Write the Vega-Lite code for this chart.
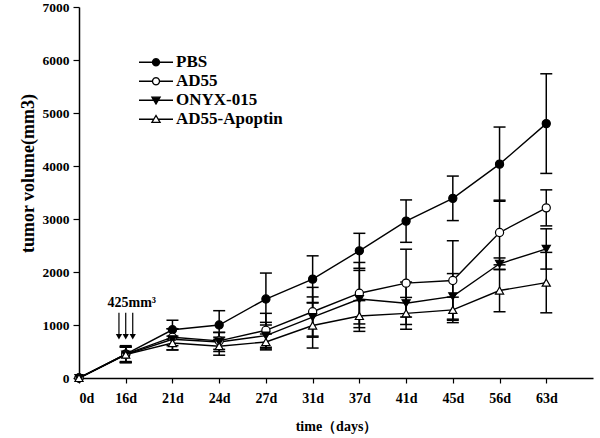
{
  "$schema": "https://vega.github.io/schema/vega-lite/v6.json",
  "autosize": {"type": "none"},
  "padding": {"left": 79, "top": 7, "right": 7, "bottom": 60},
  "width": 514,
  "height": 371,
  "background": "white",
  "config": {
    "view": {"stroke": null},
    "font": "Liberation Serif",
    "axis": {"grid": false, "domainColor": "black", "tickColor": "black", "labelColor": "black", "titleColor": "black", "labelFont": "Liberation Serif", "titleFont": "Liberation Serif", "labelFontWeight": "bold", "titleFontWeight": "bold", "domainWidth": 1.5, "tickWidth": 1.2}
  },
  "datasets": {
    "main": [
      {"s": "PBS", "i": 0, "v": 0, "lo": null, "hi": null},
      {"s": "PBS", "i": 1, "v": 450, "lo": 290, "hi": 610},
      {"s": "PBS", "i": 2, "v": 910, "lo": 730, "hi": 1090},
      {"s": "PBS", "i": 3, "v": 1000, "lo": 730, "hi": 1270},
      {"s": "PBS", "i": 4, "v": 1490, "lo": 1000, "hi": 1980},
      {"s": "PBS", "i": 5, "v": 1865, "lo": 1425, "hi": 2305},
      {"s": "PBS", "i": 6, "v": 2400, "lo": 2070, "hi": 2730},
      {"s": "PBS", "i": 7, "v": 2960, "lo": 2560, "hi": 3360},
      {"s": "PBS", "i": 8, "v": 3390, "lo": 2970, "hi": 3810},
      {"s": "PBS", "i": 9, "v": 4035, "lo": 3335, "hi": 4735},
      {"s": "PBS", "i": 10, "v": 4800, "lo": 3860, "hi": 5740},
      {"s": "AD55", "i": 0, "v": 0, "lo": null, "hi": null},
      {"s": "AD55", "i": 1, "v": 450, "lo": 310, "hi": 590},
      {"s": "AD55", "i": 2, "v": 770, "lo": 610, "hi": 930},
      {"s": "AD55", "i": 3, "v": 700, "lo": 540, "hi": 860},
      {"s": "AD55", "i": 4, "v": 900, "lo": 580, "hi": 1220},
      {"s": "AD55", "i": 5, "v": 1250, "lo": 790, "hi": 1710},
      {"s": "AD55", "i": 6, "v": 1600, "lo": 1020, "hi": 2180},
      {"s": "AD55", "i": 7, "v": 1790, "lo": 1150, "hi": 2430},
      {"s": "AD55", "i": 8, "v": 1840, "lo": 1090, "hi": 2590},
      {"s": "AD55", "i": 9, "v": 2745, "lo": 2135, "hi": 3355},
      {"s": "AD55", "i": 10, "v": 3210, "lo": 2870, "hi": 3550},
      {"s": "ONYX-015", "i": 0, "v": 0, "lo": null, "hi": null},
      {"s": "ONYX-015", "i": 1, "v": 440, "lo": 300, "hi": 580},
      {"s": "ONYX-015", "i": 2, "v": 730, "lo": 530, "hi": 930},
      {"s": "ONYX-015", "i": 3, "v": 680, "lo": 500, "hi": 860},
      {"s": "ONYX-015", "i": 4, "v": 800, "lo": 550, "hi": 1050},
      {"s": "ONYX-015", "i": 5, "v": 1150, "lo": 770, "hi": 1530},
      {"s": "ONYX-015", "i": 6, "v": 1490, "lo": 950, "hi": 2030},
      {"s": "ONYX-015", "i": 7, "v": 1410, "lo": 1010, "hi": 1810},
      {"s": "ONYX-015", "i": 8, "v": 1540, "lo": 1110, "hi": 1970},
      {"s": "ONYX-015", "i": 9, "v": 2155, "lo": 2045, "hi": 2265},
      {"s": "ONYX-015", "i": 10, "v": 2435, "lo": 2055, "hi": 2815},
      {"s": "AD55-Apoptin", "i": 0, "v": 0, "lo": null, "hi": null},
      {"s": "AD55-Apoptin", "i": 1, "v": 440, "lo": 290, "hi": 590},
      {"s": "AD55-Apoptin", "i": 2, "v": 660, "lo": 530, "hi": 790},
      {"s": "AD55-Apoptin", "i": 3, "v": 600, "lo": 430, "hi": 770},
      {"s": "AD55-Apoptin", "i": 4, "v": 680, "lo": 530, "hi": 830},
      {"s": "AD55-Apoptin", "i": 5, "v": 990, "lo": 565, "hi": 1415},
      {"s": "AD55-Apoptin", "i": 6, "v": 1170, "lo": 880, "hi": 1460},
      {"s": "AD55-Apoptin", "i": 7, "v": 1220, "lo": 920, "hi": 1520},
      {"s": "AD55-Apoptin", "i": 8, "v": 1285, "lo": 1045, "hi": 1525},
      {"s": "AD55-Apoptin", "i": 9, "v": 1650, "lo": 1250, "hi": 2050},
      {"s": "AD55-Apoptin", "i": 10, "v": 1800, "lo": 1230, "hi": 2370}
    ],
    "arrows": [
      {"i": 0.855, "top": 1230, "tip": 780},
      {"i": 1.0, "top": 1230, "tip": 780},
      {"i": 1.15, "top": 1230, "tip": 780}
    ],
    "note": [
      {"i": 1.13, "y": 1420, "label": "425mm³"}
    ]
  },
  "encoding": {
    "x": {
      "field": "i", "type": "quantitative",
      "scale": {"domain": [0, 11], "nice": false, "zero": false},
      "axis": {
        "values": [0, 1, 2, 3, 4, 5, 6, 7, 8, 9, 10],
        "labelExpr": "['0d','16d','21d','24d','27d','31d','37d','41d','45d','56d','63d'][datum.value]",
        "labelFontSize": 14, "tickSize": 5, "labelPadding": 8,
        "title": "time（days）", "titleFontSize": 14, "titlePadding": 14
      }
    }
  },
  "resolve": {"scale": {"shape": "independent", "fill": "independent"}, "legend": {"shape": "independent", "fill": "independent"}},
  "layer": [
    {
      "data": {"name": "main"},
      "mark": {"type": "rule", "color": "black", "strokeWidth": 1.5},
      "encoding": {
        "y": {"field": "lo", "type": "quantitative", "scale": {"domain": [0, 7000], "nice": false},
          "axis": {"values": [0, 1000, 2000, 3000, 4000, 5000, 6000, 7000], "format": "d", "labelFontSize": 13.5, "tickSize": 6, "labelPadding": 4, "title": "tumor volume(mm3)", "titleFontSize": 18, "titlePadding": 5, "titleY": 166}},
        "y2": {"field": "hi"}
      }
    },
    {
      "data": {"name": "main"},
      "mark": {"type": "rule", "color": "black", "strokeWidth": 1.5, "xOffset": -6, "x2Offset": 6},
      "encoding": {"x2": {"field": "i"}, "y": {"field": "hi", "type": "quantitative"}}
    },
    {
      "data": {"name": "main"},
      "mark": {"type": "rule", "color": "black", "strokeWidth": 1.5, "xOffset": -6, "x2Offset": 6},
      "encoding": {"x2": {"field": "i"}, "y": {"field": "lo", "type": "quantitative"}}
    },
    {
      "data": {"name": "main"},
      "mark": {"type": "line", "color": "black", "strokeWidth": 1.4},
      "encoding": {"y": {"field": "v", "type": "quantitative"}, "detail": {"field": "s"}}
    },
    {
      "data": {"name": "main"},
      "mark": {"type": "point", "filled": true, "opacity": 1, "stroke": "black", "strokeWidth": 1.2, "size": 66},
      "encoding": {
        "y": {"field": "v", "type": "quantitative"},
        "shape": {
          "field": "s", "type": "nominal",
          "scale": {"domain": ["PBS", "AD55", "ONYX-015", "AD55-Apoptin"], "range": ["circle", "circle", "triangle-down", "triangle-up"]},
          "legend": null
        },
        "fill": {
          "field": "s", "type": "nominal",
          "scale": {"domain": ["PBS", "AD55", "ONYX-015", "AD55-Apoptin"], "range": ["black", "white", "black", "white"]},
          "legend": null
        }
      }
    },
    {
      "data": {"name": "main"},
      "transform": [{"filter": "false"}],
      "mark": {"type": "point", "filled": true, "opacity": 1, "stroke": "black", "strokeWidth": 1.3},
      "encoding": {
        "y": {"field": "v", "type": "quantitative"},
        "shape": {
          "field": "s", "type": "nominal",
          "scale": {"domain": ["PBS", "AD55", "ONYX-015", "AD55-Apoptin"], "range": [
            "M-1,0L1,0M-0.21,0L-0.182,-0.105L-0.105,-0.182L0,-0.21L0.105,-0.182L0.182,-0.105L0.21,0L0.182,0.105L0.105,0.182L0,0.21L-0.105,0.182L-0.182,0.105Z",
            "M-1,0L-0.21,0M0.21,0L1,0M-0.21,0L-0.182,-0.105L-0.105,-0.182L0,-0.21L0.105,-0.182L0.182,-0.105L0.21,0L0.182,0.105L0.105,0.182L0,0.21L-0.105,0.182L-0.182,0.105Z",
            "M-1,0L1,0M-0.24,-0.18L0.24,-0.18L0,0.22Z",
            "M-1,0L-0.13,0M0.13,0L1,0M-0.24,0.18L0.24,0.18L0,-0.22Z"
          ]},
          "legend": {
            "orient": "none", "legendX": 59, "legendY": 46, "title": null,
            "labelFont": "Liberation Serif", "labelFontSize": 17, "labelFontWeight": "bold", "labelColor": "black",
            "symbolSize": 1156, "symbolStrokeColor": "black", "symbolStrokeWidth": 1.3, "symbolOpacity": 1,
            "clipHeight": 18.5, "rowPadding": 0, "labelOffset": 2, "padding": 0,
            "encode": {"symbols": {"update": {"stroke": {"value": "black"}, "strokeWidth": {"value": 1.3}, "opacity": {"value": 1}}}}
          }
        },
        "fill": {
          "field": "s", "type": "nominal",
          "scale": {"domain": ["PBS", "AD55", "ONYX-015", "AD55-Apoptin"], "range": ["black", "white", "black", "white"]},
          "legend": {
            "orient": "none", "legendX": 59, "legendY": 46, "title": null,
            "labelFont": "Liberation Serif", "labelFontSize": 17, "labelFontWeight": "bold", "labelColor": "black",
            "symbolSize": 1156, "symbolStrokeColor": "black", "symbolStrokeWidth": 1.3, "symbolOpacity": 1,
            "clipHeight": 18.5, "rowPadding": 0, "labelOffset": 2, "padding": 0,
            "encode": {"symbols": {"update": {"stroke": {"value": "black"}, "strokeWidth": {"value": 1.3}, "opacity": {"value": 1}}}}
          }
        }
      }
    },
    {
      "data": {"name": "arrows"},
      "mark": {"type": "rule", "color": "black", "strokeWidth": 1.2},
      "encoding": {"y": {"field": "top", "type": "quantitative"}, "y2": {"field": "tip"}}
    },
    {
      "data": {"name": "arrows"},
      "mark": {"type": "point", "shape": "triangle-down", "filled": true, "color": "black", "opacity": 1, "size": 40},
      "encoding": {"y": {"field": "tip", "type": "quantitative"}}
    },
    {
      "data": {"name": "note"},
      "mark": {"type": "text", "font": "Liberation Serif", "fontWeight": "bold", "fontSize": 14, "color": "black", "align": "center", "baseline": "middle"},
      "encoding": {"y": {"field": "y", "type": "quantitative"}, "text": {"field": "label"}}
    }
  ]
}
